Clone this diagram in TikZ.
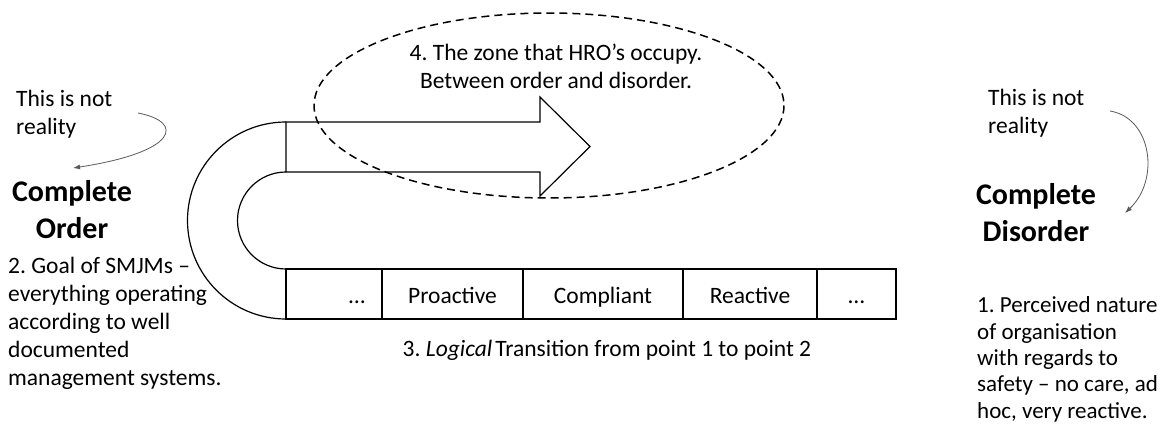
\documentclass[tikz,border=0pt]{standalone}
\usepackage{fontspec}
\setmainfont{Carlito}
\usetikzlibrary{positioning, arrows.meta}
\frenchspacing
\tikzset{txt/.style={inner sep=0pt, align=left, font=\fontsize{23.5}{28}\selectfont},
         big/.style={inner sep=0pt, align=center, font=\fontsize{30}{37}\selectfont\bfseries},
         cell/.style={draw, line width=1.2pt, inner sep=0pt, outer sep=0pt, minimum height=50pt,
                      text height=18pt, text depth=0pt, font=\fontsize{23.5}{28}\selectfont},
         shapeline/.style={line width=1.2pt},
         zoneline/.style={dashed, dash pattern=on 8pt off 5pt, line width=1.5pt},
         note/.style={-{Latex[length=7pt,width=5pt]}, draw=black!65, line width=0.8pt},
        }

\begin{document}
\begin{tikzpicture}[x=1pt,y=-1pt]
        \useasboundingbox (0,0) rectangle (1162,431);

        \draw[shapeline](286,122)--(540,122)--(540,97)--(590,146.5)--(540,196)--(540,172)--(286,172)--cycle;
        \draw[shapeline](286,172)arc[start angle=270,end angle=90,radius=48.5];
        \draw[shapeline](286,319)arc[start angle=90,end angle=270,radius=98.5];

        \node[cell, minimum width=96pt, text width=62pt, align=right, anchor=north west](c0)at(286,269){…};
        \node[cell, minimum width=141pt, right=0pt of c0](c1){Proactive};
        \node[cell, minimum width=160pt, right=0pt of c1](c2){Compliant};
        \node[cell, minimum width=134pt, right=0pt of c2](c3){Reactive};
        \node[cell, minimum width=79pt, right=0pt of c3](c4){…};

        \draw[zoneline](549,105.5)ellipse[x radius=235,y radius=92.5];
        \node[txt, align=center, anchor=base](zone)at(556,88){4. The zone that HRO’s occupy.\\Between order and disorder.};
        \node[txt, anchor=base](trans)at(607,356){3. \textit{Logical}\hspace{3pt}Transition from point 1 to point 2};

        % base anchor sits on the last line
        \node[txt, anchor=base west](notL)at(16,134){This is not\\reality};
        \node[big, anchor=base](ordL)at(72,238){Complete\\Order};
        \node[txt, anchor=base west](goalL)at(8,385){2. Goal of SMJMs –\\everything operating\\according to well\\documented\\management systems.};

        \node[txt, anchor=base west](notR)at(988,133){This is not\\reality};
        \node[big, anchor=base](disR)at(1036,241){Complete\\Disorder};
        \node[txt, anchor=base west, font=\fontsize{23}{26.3}\selectfont](percR)at(977,418){1. Perceived nature\\of organisation\\with regards to\\safety – no care, ad\\hoc, very reactive.};

        \coordinate(fromL)at(138,113);
        \coordinate(toL)at(73,168);
        \draw[note](fromL)..controls(185,122)and(178,152)..(toL);
        \coordinate(fromR)at(1110,111);
        \coordinate(toR)at(1125,213);
        \draw[note](fromR)..controls(1152,118)and(1160,180)..(toR);
    \end{tikzpicture}
\end{document}
